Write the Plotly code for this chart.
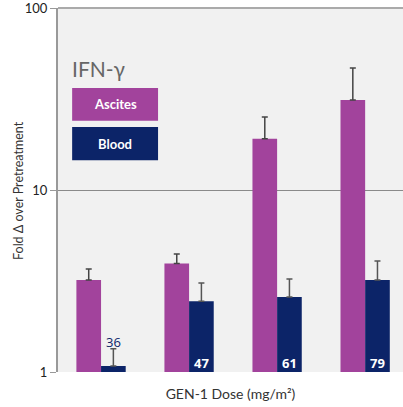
import plotly.graph_objects as go

doses = ["36", "47", "61", "79"]
ascites = [3.2, 3.95, 19.1, 31.2]
ascites_err = [0.48, 0.5, 6.1, 15.6]
blood = [1.08, 2.45, 2.58, 3.2]
blood_err = [0.26, 0.63, 0.66, 0.87]
tick_vals = [1, 10, 100]

x = list(range(len(doses)))
fig = go.Figure()
fig.add_trace(go.Bar(x=x, y=ascites, name="Ascites", marker_color="#a2439c",
                     marker_line_width=0,
                     error_y=dict(type="data", array=ascites_err, symmetric=False,
                                  arrayminus=[0]*4, color="#444", thickness=1.5, width=3)))
fig.add_trace(go.Bar(x=x, y=blood, name="Blood", marker_color="#0c2468",
                     marker_line_width=0,
                     error_y=dict(type="data", array=blood_err, symmetric=False,
                                  arrayminus=[0]*4, color="#555", thickness=1.5, width=3)))

for i, d in enumerate(doses):
    if i == 0:
        fig.add_annotation(x=i + 0.14, y=0.165, xref="x", yref="y", text=d, showarrow=False,
                           font=dict(color="#0c2468", size=13, family="Open Sans"))
    else:
        fig.add_annotation(x=i + 0.14, y=0.05, xref="x", yref="y", text="<b>" + d + "</b>",
                           showarrow=False, font=dict(color="white", size=13, family="Open Sans"))

# legend-like boxes
fig.add_shape(type="rect", xref="paper", yref="paper", x0=0.041, x1=0.29, y0=0.69, y1=0.78,
              fillcolor="#a2439c", line_width=0)
fig.add_shape(type="rect", xref="paper", yref="paper", x0=0.041, x1=0.29, y0=0.582, y1=0.673,
              fillcolor="#0c2468", line_width=0)
# top frame line at 100
fig.add_shape(type="line", xref="paper", yref="paper", x0=0, x1=1, y0=1, y1=1,
              line=dict(color="#aaa", width=2), layer="above")
fig.add_annotation(xref="paper", yref="paper", x=0.1655, y=0.735, xanchor="center", yanchor="middle",
                   text="<b>Ascites</b>", showarrow=False,
                   font=dict(color="white", size=13, family="Lato"))
fig.add_annotation(xref="paper", yref="paper", x=0.1655, y=0.627, xanchor="center", yanchor="middle",
                   text="<b>Blood</b>", showarrow=False,
                   font=dict(color="white", size=13, family="Lato"))
fig.add_annotation(xref="paper", yref="paper", x=0.035, y=0.835, xanchor="left", yanchor="middle",
                   text="IFN-γ", showarrow=False, font=dict(color="#666", size=21, family="Lato"))
# y-axis title
fig.add_annotation(xref="paper", yref="paper", x=-0.116, y=0.5, xanchor="center", yanchor="middle",
                   text="Fold Δ over Pretreatment", textangle=-90, showarrow=False,
                   font=dict(color="#333", size=12.5, family="Lato"))

fig.update_layout(
    width=403, height=407,
    margin=dict(l=58, r=0, t=8, b=35),
    paper_bgcolor="white", plot_bgcolor="#f1f1f1",
    barmode="group", bargap=0.44, bargroupgap=0,
    showlegend=False,
    font=dict(family="Lato", color="#333", size=12),
)
fig.update_xaxes(range=[-0.489, 3.43], showticklabels=False, showgrid=False, zeroline=False,
                 automargin=False,
                 title=dict(text="GEN-1 Dose (mg/m²)", standoff=17, font=dict(size=14, color="#333")))
fig.update_yaxes(type="log", range=[0, 2], tickvals=tick_vals, ticktext=["1", "10", "100"],
                 automargin=False, ticklabeloverflow="allow",
                 showgrid=True, gridcolor="#8a8a8a", gridwidth=1, showline=True, linecolor="#999",
                 linewidth=2, ticks="outside", ticklen=6, tickcolor="#999",
                 tickfont=dict(size=13, color="#222"))
fig.write_html("out.html", config={"displayModeBar": False},
               post_script="document.body.style.margin='0'; Plotly.relayout('{plot_id}', {});")
